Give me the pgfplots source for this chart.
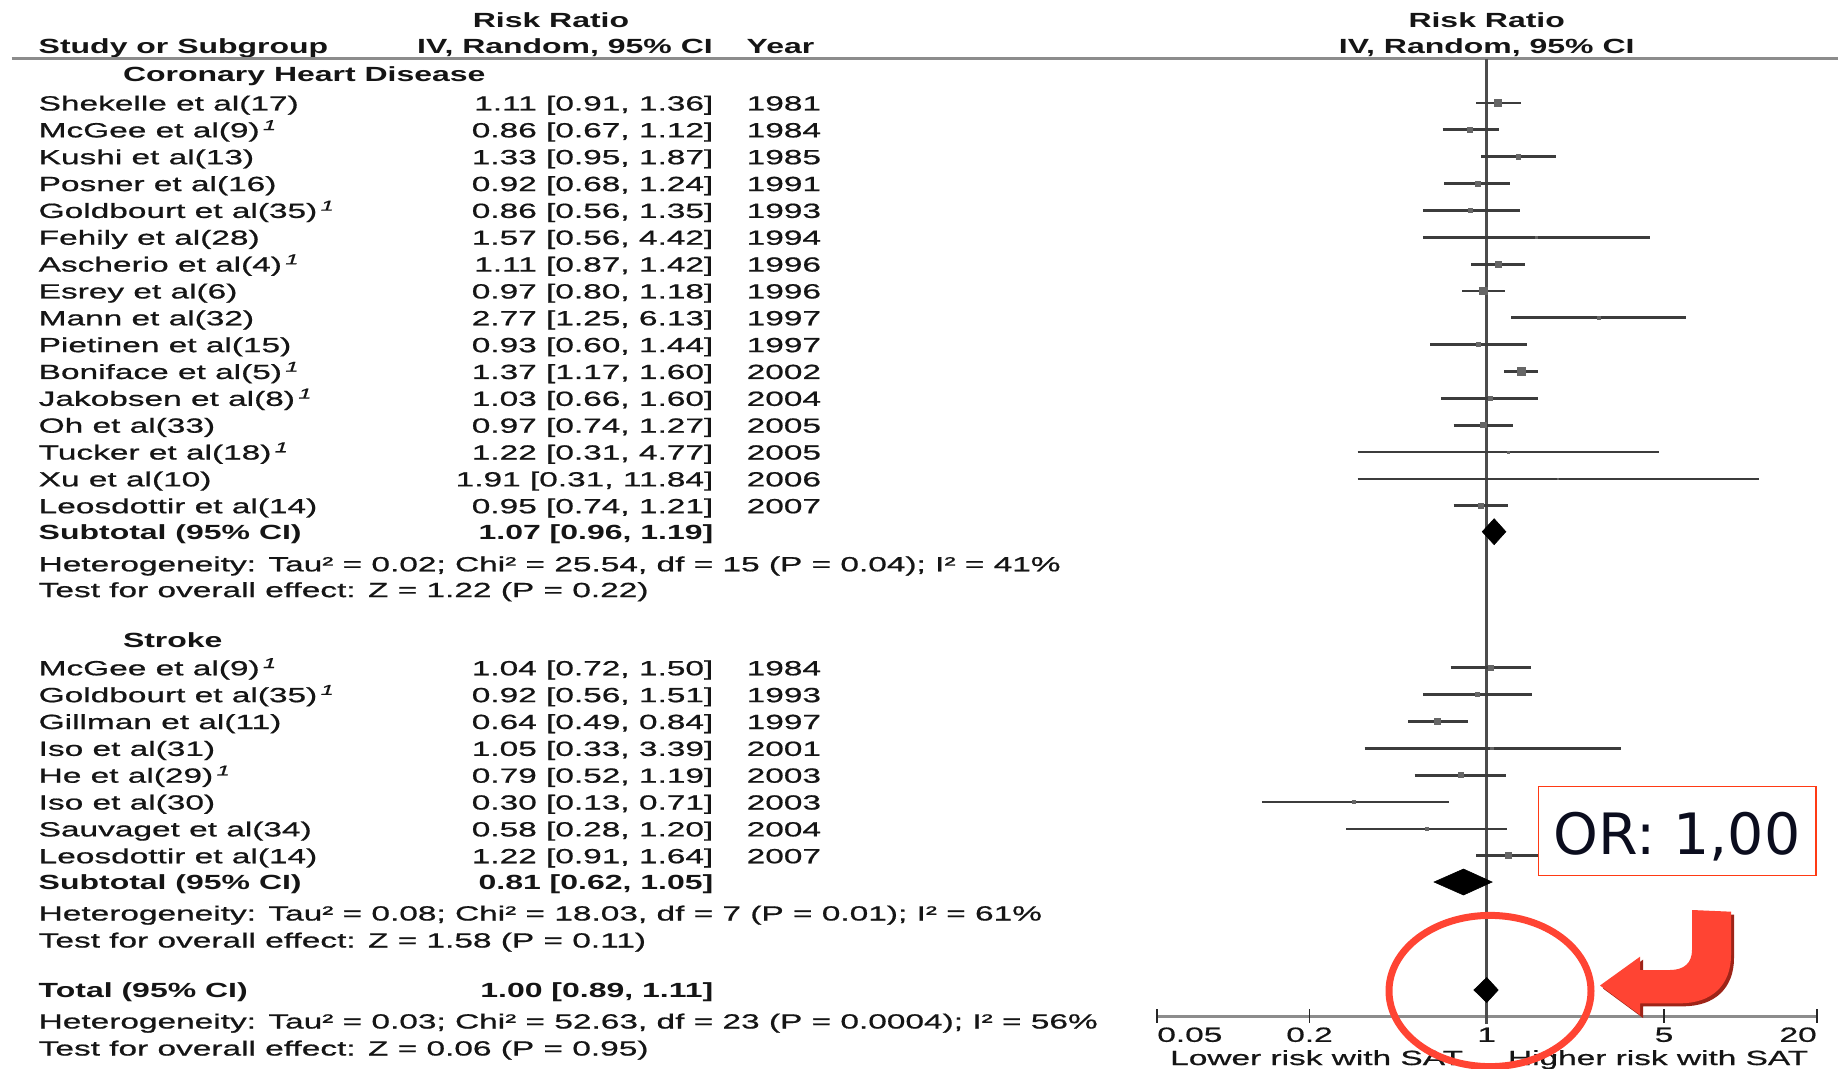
\documentclass[border=0pt]{standalone}
\usepackage{pgfplots}
\pgfplotsset{compat=1.18}
\usepackage{fontspec}
\setmainfont{Liberation Sans}[UprightFeatures={FakeStretch=1.63, FakeBold=0.8}, BoldFeatures={FakeStretch=1.56}, ItalicFeatures={FakeStretch=1.63, FakeBold=0.8}]
\newfontfamily\orfont{DejaVu Sans}
\definecolor{txt}{HTML}{151515}
\definecolor{cicol}{HTML}{3C3C3C}
\definecolor{rulecol}{HTML}{8C8C8C}
\definecolor{redann}{HTML}{FF4433}
\definecolor{redshadow}{HTML}{9E2418}
\definecolor{boxred}{HTML}{FF3A14}
\definecolor{ortext}{HTML}{0B0D1E}
\newcommand\fnm{\,\textsuperscript{\itshape 1}}
\newcommand\row[4]{%
  \node[anchor=base west] at (38.7,#1) {#2};
  \node[anchor=base east] at (713.3,#1) {#3};
  \node[anchor=base west] at (746.7,#1) {#4};}
\newcommand\study[5]{%
  \addplot[cil] coordinates {(#2,#1) (#3,#1)};
  \addplot[sq, mark size=#5] coordinates {(#4,#1)};}
\newcommand\diam[6]{%
  \addplot[fill=black, draw=black, line width=0.3pt] coordinates {(#2,#1) (#3,#5) (#4,#1) (#3,#6)} -- cycle;}
\begin{document}
\begin{tikzpicture}[x=0.5pt,y=-0.5pt,
  every node/.style={inner sep=0pt, outer sep=0pt, text=txt, font=\fontsize{10.25}{12}\selectfont}]
\useasboundingbox (0,0) rectangle (1838,1069);
% header
\node[anchor=base] at (551,27.5) {\bfseries Risk Ratio};
\node[anchor=base west] at (38.7,53.5) {\bfseries Study or Subgroup};
\node[anchor=base] at (565,53.5) {\bfseries IV, Random, 95\% CI};
\node[anchor=base west] at (746.7,53.5) {\bfseries Year};
\node[anchor=base] at (1486.7,27.5) {\bfseries Risk Ratio};
\node[anchor=base] at (1486.7,53.5) {\bfseries IV, Random, 95\% CI};
\draw[rulecol, line width=1.5pt] (11.7,58.6) -- (1838,58.6);
% CHD
\node[anchor=base west] at (123,81.5) {\bfseries Coronary Heart Disease};
\row{110.5}{Shekelle et al(17)}{1.11 [0.91, 1.36]}{1981}
\row{137.35}{McGee et al(9)\fnm}{0.86 [0.67, 1.12]}{1984}
\row{164.2}{Kushi et al(13)}{1.33 [0.95, 1.87]}{1985}
\row{191.05}{Posner et al(16)}{0.92 [0.68, 1.24]}{1991}
\row{217.9}{Goldbourt et al(35)\fnm}{0.86 [0.56, 1.35]}{1993}
\row{244.75}{Fehily et al(28)}{1.57 [0.56, 4.42]}{1994}
\row{271.6}{Ascherio et al(4)\fnm}{1.11 [0.87, 1.42]}{1996}
\row{298.45}{Esrey et al(6)}{0.97 [0.80, 1.18]}{1996}
\row{325.3}{Mann et al(32)}{2.77 [1.25, 6.13]}{1997}
\row{352.15}{Pietinen et al(15)}{0.93 [0.60, 1.44]}{1997}
\row{379}{Boniface et al(5)\fnm}{1.37 [1.17, 1.60]}{2002}
\row{405.85}{Jakobsen et al(8)\fnm}{1.03 [0.66, 1.60]}{2004}
\row{432.7}{Oh et al(33)}{0.97 [0.74, 1.27]}{2005}
\row{459.55}{Tucker et al(18)\fnm}{1.22 [0.31, 4.77]}{2005}
\row{486.4}{Xu et al(10)}{1.91 [0.31, 11.84]}{2006}
\row{513.25}{Leosdottir et al(14)}{0.95 [0.74, 1.21]}{2007}
\row{539.2}{\bfseries Subtotal (95\% CI)}{\bfseries 1.07 [0.96, 1.19]}{}
\node[anchor=base west] at (38.7,571.3) {Heterogeneity: Tau² = 0.02; Chi² = 25.54, df = 15 (P = 0.04); I² = 41\%};
\node[anchor=base west] at (38.7,597.1) {Test for overall effect: Z = 1.22 (P = 0.22)};
% Stroke
\node[anchor=base west] at (123,647.5) {\bfseries Stroke};
\row{675.3}{McGee et al(9)\fnm}{1.04 [0.72, 1.50]}{1984}
\row{702.15}{Goldbourt et al(35)\fnm}{0.92 [0.56, 1.51]}{1993}
\row{729}{Gillman et al(11)}{0.64 [0.49, 0.84]}{1997}
\row{755.85}{Iso et al(31)}{1.05 [0.33, 3.39]}{2001}
\row{782.7}{He et al(29)\fnm}{0.79 [0.52, 1.19]}{2003}
\row{809.55}{Iso et al(30)}{0.30 [0.13, 0.71]}{2003}
\row{836.4}{Sauvaget et al(34)}{0.58 [0.28, 1.20]}{2004}
\row{863.25}{Leosdottir et al(14)}{1.22 [0.91, 1.64]}{2007}
\row{889.5}{\bfseries Subtotal (95\% CI)}{\bfseries 0.81 [0.62, 1.05]}{}
\node[anchor=base west] at (38.7,920.5) {Heterogeneity: Tau² = 0.08; Chi² = 18.03, df = 7 (P = 0.01); I² = 61\%};
\node[anchor=base west] at (38.7,947.5) {Test for overall effect: Z = 1.58 (P = 0.11)};
% Total
\row{997.5}{\bfseries Total (95\% CI)}{\bfseries 1.00 [0.89, 1.11]}{}
\node[anchor=base west] at (38.7,1028.5) {Heterogeneity: Tau² = 0.03; Chi² = 52.63, df = 23 (P = 0.0004); I² = 56\%};
\node[anchor=base west] at (38.7,1055.5) {Test for overall effect: Z = 0.06 (P = 0.95)};
% forest plot
\begin{axis}[at={(578.35pt,-534.5pt)}, anchor=south west, scale only axis,
  width=330pt, height=534.5pt, xmode=log, xmin=0.05, xmax=20,
  ymin=0, ymax=1069, y dir=reverse, axis lines=none, clip=false,
  cil/.style={color=cicol, line width=1.4pt, forget plot},
  sq/.style={only marks, mark=square*, color=black!60, forget plot}]
\addplot[rulecol, line width=1.5pt] coordinates {(0.05,1016.5) (20,1016.5)};
\addplot[black!85, line width=0.9pt] coordinates {(0.05,1009) (0.05,1023)};
\addplot[black!85, line width=0.9pt] coordinates {(0.2,1009) (0.2,1023)};
\addplot[black!85, line width=0.9pt] coordinates {(5,1009) (5,1023)};
\addplot[black!85, line width=0.9pt] coordinates {(20,1009) (20,1023)};
\addplot[black!70, line width=1.3pt] coordinates {(1,58.6) (1,1024)};
% CHD
\study{103}{0.91}{1.36}{1.11}{1.8pt}
\study{129.85}{0.67}{1.12}{0.86}{1.3pt}
\study{156.7}{0.95}{1.87}{1.33}{1.1pt}
\study{183.55}{0.68}{1.24}{0.92}{1.2pt}
\study{210.4}{0.56}{1.35}{0.86}{1.0pt}
\study{237.25}{0.56}{4.42}{1.57}{0.6pt}
\study{264.1}{0.87}{1.42}{1.11}{1.6pt}
\study{290.95}{0.80}{1.18}{0.97}{1.8pt}
\study{317.8}{1.25}{6.13}{2.77}{0.7pt}
\study{344.65}{0.60}{1.44}{0.93}{1.0pt}
\study{371.5}{1.17}{1.60}{1.37}{2.0pt}
\study{398.35}{0.66}{1.60}{1.03}{1.0pt}
\study{425.2}{0.74}{1.27}{0.97}{1.3pt}
\study{452.05}{0.31}{4.77}{1.22}{0.5pt}
\study{478.9}{0.31}{11.84}{1.91}{0.4pt}
\study{505.75}{0.74}{1.21}{0.95}{1.3pt}
\diam{531.7}{0.96}{1.07}{1.19}{518.7}{544.7}
% Stroke
\study{667.8}{0.72}{1.50}{1.04}{1.3pt}
\study{694.65}{0.56}{1.51}{0.92}{1.1pt}
\study{721.5}{0.49}{0.84}{0.64}{1.5pt}
\study{748.35}{0.33}{3.39}{1.05}{0.6pt}
\study{775.2}{0.52}{1.19}{0.79}{1.2pt}
\study{802.05}{0.13}{0.71}{0.30}{0.8pt}
\study{828.9}{0.28}{1.20}{0.58}{0.8pt}
\study{855.75}{0.91}{1.64}{1.22}{1.5pt}
\diam{882}{0.62}{0.81}{1.05}{869}{895}
% Total
\diam{990}{0.89}{1.00}{1.11}{977.5}{1002.5}
\end{axis}
% tick labels
\node[anchor=base west] at (1157.3,1041.8) {0.05};
\node[anchor=base] at (1309.5,1041.8) {0.2};
\node[anchor=base] at (1486.7,1041.8) {1};
\node[anchor=base] at (1664,1041.8) {5};
\node[anchor=base east] at (1816.7,1041.8) {20};
\node[anchor=base east] at (1463,1065) {Lower risk with SAT};
\node[anchor=base west] at (1508,1065) {Higher risk with SAT};
% annotations
\draw[boxred, line width=0.75pt, fill=white] (1538.3,786.7) rectangle (1816,875.3);
\node[anchor=base, text=ortext, font=\orfont\fontsize{28.5}{31}\selectfont] at (1677,854) {OR: 1,00};
\draw[redann, line width=3.5pt] (1490,991) ellipse [x radius=50.5pt, y radius=37.8pt];
\begin{scope}[shift={(3,3)}]
\fill[redshadow] (1692,910) -- (1692,950) .. controls (1692,963) and (1684,970) .. (1670,970) -- (1640,970) -- (1640,956.7) -- (1600,985.5) -- (1640,1015) -- (1640,1003.3) -- (1680,1003.3) .. controls (1712,1003.3) and (1731,985) .. (1731,955) -- (1731,911.7) -- cycle;
\end{scope}
\fill[redann] (1692,910) -- (1692,950) .. controls (1692,963) and (1684,970) .. (1670,970) -- (1640,970) -- (1640,956.7) -- (1600,985.5) -- (1640,1015) -- (1640,1003.3) -- (1680,1003.3) .. controls (1712,1003.3) and (1731,985) .. (1731,955) -- (1731,911.7) -- cycle;
\end{tikzpicture}
\end{document}
